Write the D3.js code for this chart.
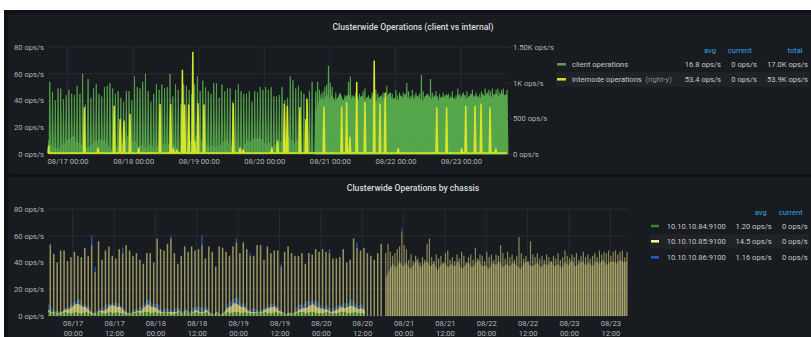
<!DOCTYPE html>
<html>
<head>
<meta charset="utf-8">
<script src="https://cdn.jsdelivr.net/npm/d3@7"></script>
<style>
  html, body { margin: 0; padding: 0; background: #ffffff; }
  svg { display: block; font-family: Roboto, "Noto Sans", sans-serif; }
</style>
</head>
<body>
<svg id="dash" width="811" height="337"></svg>
<script>
// ---------------- time range ----------------
const rangeStart = "2021-08-16 16:50";
const rangeEnd = "2021-08-23 16:50";
const hourlyStart = "2021-08-16 17:30";   // first hourly burst
const denseStart = "2021-08-20 18:50";    // continuous load begins
const denseStepMinutes = 40;

// ---------------- tick labels ----------------
const dayTicks = ["08/17 00:00", "08/18 00:00", "08/19 00:00", "08/20 00:00",
                  "08/21 00:00", "08/22 00:00", "08/23 00:00"];
const halfDayTicks = ["08/17 00:00", "08/17 12:00", "08/18 00:00", "08/18 12:00",
                      "08/19 00:00", "08/19 12:00", "08/20 00:00", "08/20 12:00",
                      "08/21 00:00", "08/21 12:00", "08/22 00:00", "08/22 12:00",
                      "08/23 00:00", "08/23 12:00"];
const leftTicks = [0, 20, 40, 60, 80];
const rightTicks = [0, 500, 1000, 1500];
const rightTickLabels = ["0 ops/s", "500 ops/s", "1K ops/s", "1.50K ops/s"];

// ---------------- chassis data (ops/s) ----------------
// hourly bursts on 10.10.10.85, one value per hour from hourlyStart
const peaks85 = [53, 46.5, 40, 49, 49, 41, 44, 48, 45, 44,
                 51, 45, 53, 33, 56, 42, 49, 52, 45, 43,
                 50, 47, 53, 49, 45, 47, 42, 39, 47, 47,
                 40, 58, 50, 49, 54, 58, 47, 39, 45, 52,
                 48, 52, 49, 50, 53, 43, 52, 48, 37, 52,
                 51, 48, 45, 52, 55, 47, 55, 50, 45, 45,
                 53, 53, 42, 52, 47, 49, 49, 37, 48, 52,
                 47, 45, 45, 47, 39, 47, 46, 50, 48, 50,
                 48, 47, 43, 43, 44, 50, 40, 42, 58, 51,
                 49, 51, 47, 45, 42, 47, 54];
// 10.10.10.86 share stacked on top of those bursts
const tips86 = [1, 0, 0, 0, 0, 0, 0, 0, 0, 0,
                0, 0, 7, 4, 0, 0, 0, 0, 0, 0,
                0, 4, 0, 0, 0, 0, 0, 0, 0, 0,
                0, 0, 0, 0, 0, 2, 0, 0, 0, 0,
                0, 0, 0, 0, 7, 0, 0, 0, 0, 0,
                0, 0, 0, 0, 3, 0, 0, 0, 2, 0,
                0, 0, 0, 0, 0, 0, 0, 2, 0, 0,
                0, 0, 0, 0, 0, 0, 0, 0, 0, 0,
                0, 3, 0, 0, 0, 0, 0, 0, 0, 4,
                0, 0, 0, 0, 0, 0, 0];
// background load, one value per hour from rangeStart
const noise84 = [3, 2, 3, 1, 2, 3, 2, 2, 3, 2,
                 2, 3, 2, 1, 2, 3, 2, 2, 3, 2,
                 3, 2, 2, 1, 2, 2, 3, 2, 3, 3,
                 2, 3, 2, 2, 3, 2, 1, 2, 3, 2,
                 3, 2, 2, 3, 2, 2, 3, 1, 1, 2,
                 1, 1, 3, 2, 3, 3, 2, 3, 2, 2,
                 2, 3, 2, 3, 2, 2, 3, 2, 2, 1,
                 1, 2, 2, 3, 3, 2, 3, 3, 2, 2,
                 2, 3, 2, 2, 2, 3, 3, 2, 2, 3,
                 2, 2, 2];
const noise85 = [2, 1, 0, 1, 1, 2, 3, 5, 6, 7,
                 5, 4, 2, 1, 0, 1, 2, 3, 5, 6,
                 4, 5, 2, 1, 0, 1, 1, 2, 4, 6,
                 5, 4, 3, 1, 0, 1, 2, 1, 1, 0,
                 1, 0, 1, 2, 1, 1, 2, 1, 0, 1,
                 0, 1, 3, 5, 7, 6, 5, 4, 2, 1,
                 1, 0, 1, 2, 4, 5, 4, 2, 1, 0,
                 1, 0, 1, 2, 3, 4, 5, 6, 5, 4,
                 3, 2, 1, 2, 3, 4, 3, 5, 6, 4,
                 3, 4, 2];
const noise86 = [5, 3, 1, 2, 0, 1, 2, 3, 1, 4,
                 2, 1, 3, 0, 2, 1, 2, 4, 1, 2,
                 3, 1, 2, 1, 0, 2, 1, 3, 2, 4,
                 3, 2, 4, 1, 3, 2, 1, 3, 2, 1,
                 2, 1, 3, 2, 4, 3, 2, 1, 0, 1,
                 0, 1, 2, 4, 3, 5, 2, 3, 1, 2,
                 3, 1, 2, 1, 2, 3, 1, 2, 0, 1,
                 1, 0, 3, 4, 2, 5, 3, 2, 4, 2,
                 1, 3, 2, 2, 3, 1, 4, 2, 5, 3,
                 2, 4, 1];
// continuous load on 10.10.10.85, one peak every denseStepMinutes from denseStart
const densePeaks85 = [47, 54, 48, 45, 47, 50, 52, 63, 53, 50, 42, 46,
                      41, 45, 43, 40, 44, 42, 54, 58, 44, 41, 46, 43,
                      45, 40, 47, 49, 42, 44, 41, 46, 43, 48, 45, 40,
                      44, 46, 42, 51, 43, 46, 45, 41, 48, 44, 46, 42,
                      46, 45, 53, 47, 43, 48, 44, 46, 42, 45, 59, 47,
                      43, 45, 41, 56, 46, 44, 47, 43, 45, 42, 46, 44,
                      41, 45, 43, 47, 42, 44, 49, 45, 43, 46, 44, 47,
                      42, 45, 48, 44, 46, 43, 45, 47, 44, 49, 46, 48,
                      47, 49, 45, 48, 49, 46, 48, 49, 44, 48];
const denseTips86 = [[7, 3]];            // [peak index, ops/s]
// sustained level under the continuous load, one value per hour from denseStart
const denseFloor85 = [28, 34, 39, 36, 41, 37, 40, 35, 38, 42, 36, 39,
                      41, 37, 40, 34, 38, 40, 36, 39, 37, 41, 35, 38,
                      40, 36, 39, 42, 37, 38, 35, 40, 38, 41, 36, 39,
                      37, 40, 38, 35, 39, 41, 37, 38, 40, 36, 39, 38,
                      41, 37, 39, 36, 40, 38, 42, 37, 39, 41, 38, 40,
                      37, 41, 39, 42, 38, 40, 41, 39, 42, 40, 41];

// ---------------- internode data (ops/s, right axis) ----------------
const internodeIdle = 15;
// [hours after rangeStart, ops/s]
const internodeSpikes = [[0.2, 120], [13.3, 656], [18.3, 90], [24.2, 675], [26.4, 490],
  [27.8, 470], [30.0, 560], [33.2, 90], [41.0, 700], [44.9, 700], [45.9, 80], [47.1, 60],
  [49.2, 1180], [50.0, 695], [51.5, 695], [53.0, 1435], [53.7, 190], [54.9, 712],
  [57.1, 695], [67.8, 712], [70.3, 90], [71.5, 60], [81.9, 90], [84.0, 190], [86.5, 703],
  [87.6, 675], [92.2, 656], [94.4, 490], [94.8, 770], [101.0, 666], [107.5, 666],
  [109.3, 730], [110.5, 245], [113.0, 1010], [116.0, 730], [119.4, 1310], [121.5, 703],
  [123.4, 860], [128.2, 80], [142.3, 656], [145.9, 656], [151.4, 80], [152.9, 675],
  [156.3, 675], [158.5, 703], [161.8, 656], [163.9, 80]];

// ---------------- legends ----------------
const opsNames = ["client operations", "internode operations"];
const opsColors = ["#56A64B", "#D8E42A"];
const opsAvg = ["16.8 ops/s", "53.4 ops/s"];
const opsCurrent = ["0 ops/s", "0 ops/s"];
const opsTotal = ["17.0K ops/s", "53.9K ops/s"];
const chassisNames = ["10.10.10.84:9100", "10.10.10.85:9100", "10.10.10.86:9100"];
const chassisColors = ["#37872D", "#FFF899", "#1F60C4"];
const chassisAvg = ["1.20 ops/s", "14.5 ops/s", "1.16 ops/s"];
const chassisCurrent = ["0 ops/s", "0 ops/s", "0 ops/s"];

// ---------------- helpers ----------------
const HOUR = 3600e3;
const parseFull = d3.timeParse("%Y-%m-%d %H:%M");
const parseTick = s => d3.timeParse("%Y/%m/%d %H:%M")("2021/" + s);
const after = (base, h) => new Date(base.getTime() + h * HOUR);
const t0 = parseFull(rangeStart), t1 = parseFull(rangeEnd);
const tHourly = parseFull(hourlyStart), tDense = parseFull(denseStart);
const denseStepH = denseStepMinutes / 60;

const gridColor = "#2a2c32";
const axisText = "#b3b4bb";
const fontAxis = 7.6;

const svg = d3.select("#dash");

// page frame and panels
svg.append("rect").attr("x", 4).attr("y", 10).attr("width", 811).attr("height", 330).attr("fill", "#111217");
svg.append("rect").attr("x", 9).attr("y", 15).attr("width", 812).attr("height", 158).attr("rx", 2)
  .attr("fill", "#181b1f").attr("stroke", "#202328").attr("stroke-width", 1);
svg.append("rect").attr("x", 9).attr("y", 178).attr("width", 812).attr("height", 170).attr("rx", 2)
  .attr("fill", "#181b1f").attr("stroke", "#202328").attr("stroke-width", 1);

svg.append("text").attr("x", 413).attr("y", 30).attr("text-anchor", "middle")
  .attr("font-size", 8.6).attr("font-weight", 500).attr("fill", "#d8d9da")
  .text("Clusterwide Operations (client vs internal)");
svg.append("text").attr("x", 413).attr("y", 191).attr("text-anchor", "middle")
  .attr("font-size", 8.6).attr("font-weight", 500).attr("fill", "#d8d9da")
  .text("Clusterwide Operations by chassis");

// triangle-shaped burst around one sample
function spike(xs, ys, t, lo, hi, halfH) {
  return d3.area().x(d => xs(d[0])).y0(d => ys(d[1])).y1(d => ys(d[2]))(
    [[after(t, -halfH), lo, lo], [t, lo, hi], [after(t, halfH), lo, lo]]);
}

function grid(g, xs, ys, xTicks) {
  const [xa, xb] = xs.range(), [ya, yb] = ys.range();
  g.selectAll(null).data(leftTicks).join("line")
    .attr("x1", xa).attr("x2", xb).attr("y1", d => ys(d)).attr("y2", d => ys(d))
    .attr("stroke", gridColor).attr("stroke-width", 1);
  g.selectAll(null).data(xTicks).join("line")
    .attr("x1", d => xs(d)).attr("x2", d => xs(d)).attr("y1", ya).attr("y2", yb)
    .attr("stroke", gridColor).attr("stroke-width", 1);
}

function styleAxis(sel) {
  sel.select(".domain").remove();
  sel.selectAll("line").attr("stroke", gridColor);
  sel.selectAll("text").attr("fill", axisText).attr("font-size", fontAxis)
    .attr("font-family", "Roboto, 'Noto Sans', sans-serif");
}

// ================= panel 1 =================
const x1 = d3.scaleTime().domain([t0, t1]).range([48, 507]);
const yL1 = d3.scaleLinear().domain([0, 80]).range([154, 47]);
const yR1 = d3.scaleLinear().domain([0, 1500]).range([154, 47]);
const dayDates = dayTicks.map(parseTick);

const p1 = svg.append("g");
grid(p1, x1, yL1, dayDates);

// client = sum of chassis; background band
const noiseRows = noise84.map((v, i) => ({ t: after(t0, i), a: v, b: noise85[i], c: noise86[i] }));
p1.append("path").datum(noiseRows)
  .attr("d", d3.area().x(d => x1(d.t)).y0(yL1(0)).y1(d => yL1(d.a + d.b + d.c)))
  .attr("fill", "#56A64B").attr("fill-opacity", 0.65);
p1.append("path").datum(noiseRows)
  .attr("d", d3.line().x(d => x1(d.t)).y(d => yL1(d.a + d.b + d.c)))
  .attr("fill", "none").attr("stroke", "#56A64B").attr("stroke-width", 1);

// hourly client bursts
p1.selectAll(null).data(peaks85).join("path")
  .attr("d", (v, k) => spike(x1, yL1, after(tHourly, k), 0, v + tips86[k], 0.3))
  .attr("fill", "#56A64B").attr("stroke", "#56A64B").attr("stroke-width", 0.8);

// continuous client load
const floorRows = denseFloor85.map((v, i) => ({ t: after(tDense, i), v }));
p1.append("path").datum(floorRows)
  .attr("d", d3.area().x(d => x1(d.t)).y0(yL1(0)).y1(d => yL1(d.v + 4)))
  .attr("fill", "#56A64B");
const tipAt = i => { const f = denseTips86.find(d => d[0] === i); return f ? f[1] : 0; };
p1.selectAll(null).data(densePeaks85).join("path")
  .attr("d", (v, i) => spike(x1, yL1, after(tDense, i * denseStepH), 0, v + tipAt(i), denseStepH / 2))
  .attr("fill", "#56A64B").attr("stroke", "#56A64B").attr("stroke-width", 1.1);

// internode operations on the right axis
const interPts = [[0, internodeIdle]];
internodeSpikes.forEach(([h, v]) => {
  interPts.push([h - 0.3, internodeIdle], [h, v], [h + 0.3, internodeIdle]);
});
interPts.push([168, internodeIdle]);
interPts.sort((a, b) => a[0] - b[0]);
p1.append("path").datum(interPts)
  .attr("d", d3.area().x(d => x1(after(t0, d[0]))).y0(yR1(0)).y1(d => yR1(d[1])))
  .attr("fill", "#D8E42A").attr("fill-opacity", 0.3);
p1.append("path").datum(interPts)
  .attr("d", d3.line().x(d => x1(after(t0, d[0]))).y(d => yR1(d[1])))
  .attr("fill", "none").attr("stroke", "#D8E42A").attr("stroke-width", 1.5);

// axes
p1.append("g").attr("transform", `translate(${x1.range()[0]},0)`)
  .call(d3.axisLeft(yL1).tickValues(leftTicks).tickFormat(d => d + " ops/s").tickSize(0).tickPadding(4))
  .call(styleAxis);
p1.append("g").attr("transform", `translate(${x1.range()[1]},0)`)
  .call(d3.axisRight(yR1).tickValues(rightTicks).tickFormat((d, i) => rightTickLabels[i]).tickSize(5).tickPadding(1))
  .call(styleAxis);
p1.append("g").attr("transform", `translate(0,${yL1.range()[0]})`)
  .call(d3.axisBottom(x1).tickValues(dayDates).tickFormat(d3.timeFormat("%m/%d %H:%M")).tickSize(0).tickPadding(5))
  .call(styleAxis);

// legend
const lg1 = svg.append("g").attr("font-size", fontAxis);
const head1 = [["avg", 716], ["current", 751.7], ["total", 802.7]];
lg1.selectAll(null).data(head1).join("text")
  .attr("x", d => d[1]).attr("y", 50.7).attr("dy", "0.35em").attr("text-anchor", "end")
  .attr("fill", "#33A2E5").text(d => d[0]);
const rowY1 = [64.3, 79.3];
lg1.append("rect").attr("x", 556).attr("y", rowY1[1] - 7.5).attr("width", 253).attr("height", 15).attr("fill", "#202226");
opsNames.forEach((name, i) => {
  const y = rowY1[i];
  lg1.append("line").attr("x1", 557).attr("x2", 566).attr("y1", y).attr("y2", y)
    .attr("stroke", opsColors[i]).attr("stroke-width", 2.5);
  const t = lg1.append("text").attr("x", 572).attr("y", y).attr("dy", "0.35em").attr("fill", "#c7c8cc").text(name);
  if (i === 1) t.append("tspan").attr("fill", "#8e8f96").text("  (right-y)").attr("xml:space", "preserve");
  [[opsAvg[i], 721], [opsCurrent[i], 757], [opsTotal[i], 808]].forEach(([s, x]) => {
    lg1.append("text").attr("x", x).attr("y", y).attr("dy", "0.35em").attr("text-anchor", "end")
      .attr("fill", "#c7c8cc").text(s);
  });
});

// ================= panel 2 =================
const x2 = d3.scaleTime().domain([t0, t1]).range([48, 627]);
const y2 = d3.scaleLinear().domain([0, 80]).range([316, 209]);
const halfDates = halfDayTicks.map(parseTick);

const p2 = svg.append("g");
grid(p2, x2, y2, halfDates);

// stacked background load
const stacked = d3.stack().keys(["a", "b", "c"])(noiseRows);
const noiseFill = ["#37872D", "#FFF899", "#1F60C4"];
const noiseOpacity = [0.85, 0.6, 0.55];
p2.selectAll(null).data(stacked).join("path")
  .attr("d", d3.area().x(d => x2(d.data.t)).y0(d => y2(d[0])).y1(d => y2(d[1])))
  .attr("fill", (d, i) => noiseFill[i]).attr("fill-opacity", (d, i) => noiseOpacity[i]);

// hourly bursts: 10.10.10.85 with 10.10.10.86 stacked on top
const barHalfH = 0.22;
p2.selectAll(null).data(peaks85).join("rect")
  .attr("x", (v, k) => x2(after(tHourly, k - barHalfH)))
  .attr("width", (v, k) => x2(after(tHourly, k + barHalfH)) - x2(after(tHourly, k - barHalfH)))
  .attr("y", v => y2(v)).attr("height", v => y2(0) - y2(v))
  .attr("fill", "#FFF899").attr("fill-opacity", 0.55);
p2.selectAll(null).data(tips86).join("rect")
  .attr("x", (v, k) => x2(after(tHourly, k - barHalfH)))
  .attr("width", (v, k) => x2(after(tHourly, k + barHalfH)) - x2(after(tHourly, k - barHalfH)))
  .attr("y", (v, k) => y2(peaks85[k] + v)).attr("height", (v, k) => y2(peaks85[k]) - y2(peaks85[k] + v))
  .attr("fill", "#1F60C4").attr("fill-opacity", 0.85);

// continuous load
p2.append("path").datum(floorRows)
  .attr("d", d3.area().x(d => x2(d.t)).y0(y2(0)).y1(d => y2(d.v)))
  .attr("fill", "#FFF899").attr("fill-opacity", 0.3);
const denseHalf = 0.17;
p2.selectAll(null).data(densePeaks85).join("rect")
  .attr("x", (v, i) => x2(after(tDense, i * denseStepH - denseHalf)))
  .attr("width", (v, i) => x2(after(tDense, i * denseStepH + denseHalf)) - x2(after(tDense, i * denseStepH - denseHalf)))
  .attr("y", v => y2(v)).attr("height", v => y2(0) - y2(v))
  .attr("fill", "#FFF899").attr("fill-opacity", 0.5);
p2.selectAll(null).data(denseTips86).join("rect")
  .attr("x", d => x2(after(tDense, d[0] * denseStepH - denseHalf)))
  .attr("width", d => x2(after(tDense, d[0] * denseStepH + denseHalf)) - x2(after(tDense, d[0] * denseStepH - denseHalf)))
  .attr("y", d => y2(densePeaks85[d[0]] + d[1])).attr("height", d => y2(0) - y2(d[1]))
  .attr("fill", "#1F60C4").attr("fill-opacity", 0.85);

// axes
p2.append("g").attr("transform", `translate(${x2.range()[0]},0)`)
  .call(d3.axisLeft(y2).tickValues(leftTicks).tickFormat(d => d + " ops/s").tickSize(0).tickPadding(4))
  .call(styleAxis);
const fmtDay = d3.timeFormat("%m/%d"), fmtTime = d3.timeFormat("%H:%M");
p2.append("g").attr("transform", `translate(0,${y2.range()[0]})`)
  .call(d3.axisBottom(x2).tickValues(halfDates).tickSize(0).tickPadding(5))
  .call(styleAxis)
  .call(g => g.selectAll("text").each(function (d) {
    const s = d3.select(this).attr("dy", null).text(null);
    s.append("tspan").attr("x", 0).attr("dy", "0.71em").text(fmtDay(d));
    s.append("tspan").attr("x", 0).attr("dy", "1.3em").text(fmtTime(d));
  }));

// legend
const lg2 = svg.append("g").attr("font-size", fontAxis);
lg2.selectAll(null).data([["avg", 766.7], ["current", 802.7]]).join("text")
  .attr("x", d => d[1]).attr("y", 212).attr("dy", "0.35em").attr("text-anchor", "end")
  .attr("fill", "#33A2E5").text(d => d[0]);
const rowY2 = [226, 241.3, 257.3];
lg2.append("rect").attr("x", 650).attr("y", rowY2[1] - 7.5).attr("width", 159).attr("height", 15).attr("fill", "#202226");
chassisNames.forEach((name, i) => {
  const y = rowY2[i];
  lg2.append("line").attr("x1", 651).attr("x2", 659).attr("y1", y).attr("y2", y)
    .attr("stroke", chassisColors[i]).attr("stroke-width", 2.5);
  lg2.append("text").attr("x", 666.7).attr("y", y).attr("dy", "0.35em").attr("fill", "#c7c8cc").text(name);
  [[chassisAvg[i], 771.7], [chassisCurrent[i], 807.7]].forEach(([s, x]) => {
    lg2.append("text").attr("x", x).attr("y", y).attr("dy", "0.35em").attr("text-anchor", "end")
      .attr("fill", "#c7c8cc").text(s);
  });
});
</script>
</body>
</html>
